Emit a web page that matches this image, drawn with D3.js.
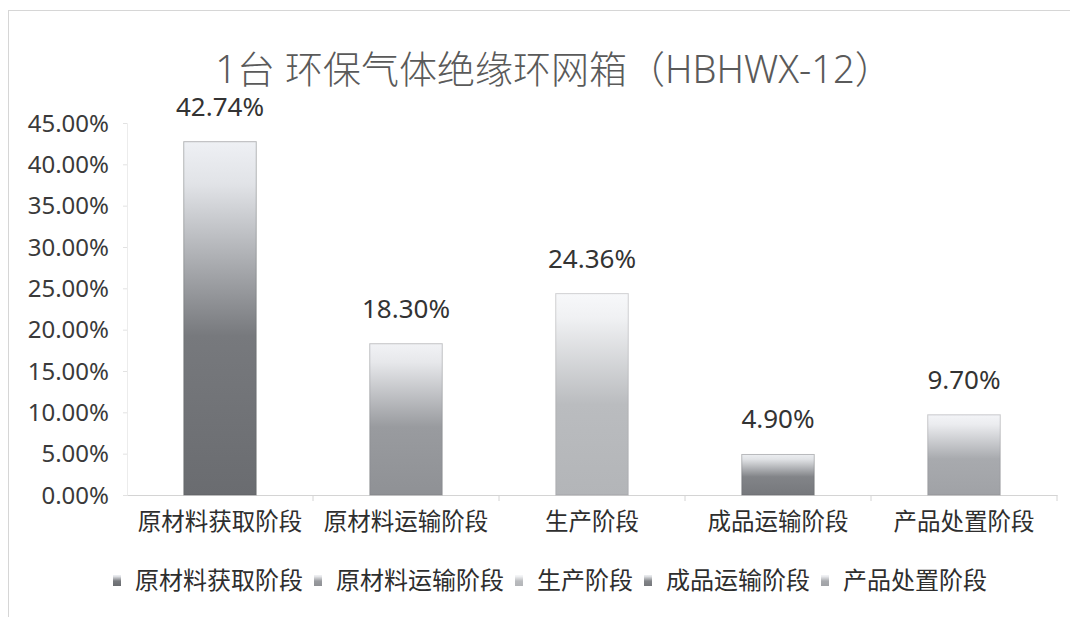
<!DOCTYPE html>
<html><head><meta charset="utf-8">
<script src="https://cdn.jsdelivr.net/npm/d3@7"></script>
<style>
body{margin:0;background:#fff;}
svg{display:block;}
text{font-family:"Noto Sans","Noto Sans CJK SC",sans-serif;}
</style>
</head><body>
<svg id="c" width="1070" height="617"></svg>
<script>
// ---- data ----
const title = "1台 环保气体绝缘环网箱（HBHWX-12）";
const categories = ["原材料获取阶段","原材料运输阶段","生产阶段","成品运输阶段","产品处置阶段"];
const values = [42.74, 18.30, 24.36, 4.90, 9.70];
const yTicks = [0, 5, 10, 15, 20, 25, 30, 35, 40, 45];
// ---- styles ----
const topColors = ["#eef0f4","#f1f2f5","#f7f8fa","#eceef1","#f3f4f7"];
const bottomColors = ["#6a6c70","#8f9195","#b3b5b8","#76787c","#a0a2a6"];

const svg = d3.select("#c");
const M = {left:127, right:1057, top:123, bottom:495};

// frame
svg.append("rect").attr("x",8.5).attr("y",10.5).attr("width",1080).attr("height",700)
  .attr("fill","#fff").attr("stroke","#d6d6d6");

const defs = svg.append("defs");
categories.forEach((c,i)=>{
  const g = defs.append("linearGradient").attr("id","g"+i)
    .attr("x1",0).attr("y1",0).attr("x2",0).attr("y2",1);
  const mid = d3.interpolateRgb(topColors[i], bottomColors[i]);
  g.append("stop").attr("offset","0").attr("stop-color",topColors[i]);
  g.append("stop").attr("offset","0.12").attr("stop-color",mid(0.1));
  g.append("stop").attr("offset","0.55").attr("stop-color",mid(0.9));
  g.append("stop").attr("offset","1").attr("stop-color",bottomColors[i]);
});

const x = d3.scaleBand().domain(categories).range([M.left, M.right]).padding(0);
const y = d3.scaleLinear().domain([0,45]).range([M.bottom, M.top]);
const barW = x.bandwidth()*0.39;

// y axis
const yAxis = svg.append("g").attr("transform",`translate(${M.left},0)`)
  .call(d3.axisLeft(y).tickValues(yTicks).tickSize(4).tickPadding(14)
    .tickFormat(d=>d.toFixed(2)+"%"));
yAxis.select(".domain").attr("stroke","#ececec");
yAxis.selectAll(".tick line").attr("stroke","#e2e2e2");
yAxis.selectAll("text").attr("font-size",24).attr("fill","#3a3a3a").attr("dy","0.34em");

// x axis
const xAxis = svg.append("g").attr("transform",`translate(0,${M.bottom})`)
  .call(d3.axisBottom(x).tickSize(0).tickPadding(28));
xAxis.select(".domain").attr("stroke","#d4d4d4");
xAxis.selectAll("text").attr("font-size",23.5).attr("fill","#2e2e2e").attr("dy","0.3em");
// boundary ticks
svg.append("g").selectAll("line").data(categories.slice(1).concat(["__end"]))
  .join("line")
  .attr("x1",d=> d==="__end" ? x.range()[1] : x(d))
  .attr("x2",d=> d==="__end" ? x.range()[1] : x(d))
  .attr("y1",M.bottom).attr("y2",M.bottom+6).attr("stroke","#d4d4d4");

// bars
svg.append("g").selectAll("rect").data(values).join("rect")
  .attr("x",(d,i)=>x(categories[i])+x.bandwidth()/2-barW/2)
  .attr("y",d=>y(d))
  .attr("width",barW)
  .attr("height",d=>y(0)-y(d))
  .attr("fill",(d,i)=>`url(#g${i})`)
  .attr("stroke",(d,i)=>d3.color(bottomColors[i]).darker(0.6))
  .attr("stroke-opacity",0.4)
  .attr("stroke-width",1);

// data labels
svg.append("g").selectAll("text").data(values).join("text")
  .attr("x",(d,i)=>x(categories[i])+x.bandwidth()/2)
  .attr("y",d=>y(d)-26)
  .attr("text-anchor","middle").attr("font-size",26).attr("fill","#333")
  .text(d=>d.toFixed(2)+"%");

// title
svg.append("text").attr("x",554).attr("y",83).attr("text-anchor","middle")
  .attr("font-size",38).attr("font-weight",300).attr("fill","#5a5a5a").text(title);

// legend
const leg = svg.append("g");
let lx = 113;
categories.forEach((c,i)=>{
  leg.append("rect").attr("x",lx).attr("y",575).attr("width",8).attr("height",11)
    .attr("fill",`url(#g${i})`);
  const t = leg.append("text").attr("x",lx+22).attr("y",589)
    .attr("font-size",24).attr("fill","#2e2e2e").text(c);
  lx += 22 + t.node().getComputedTextLength() + 11;
});
</script>
</body></html>
